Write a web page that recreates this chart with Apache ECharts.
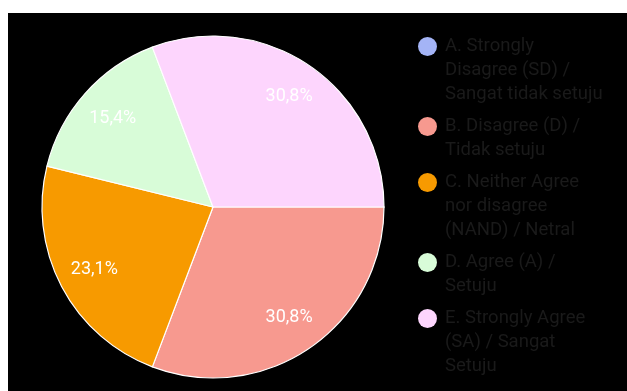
<!DOCTYPE html>
<html>
<head>
<meta charset="utf-8">
<script src="https://cdn.jsdelivr.net/npm/echarts@6/dist/echarts.min.js"></script>
<style>
  html, body { margin: 0; padding: 0; background: #fff; width: 627px; height: 391px; overflow: hidden; }
  #chart { position: absolute; left: 8px; top: 13px; width: 619px; height: 378px; }
</style>
</head>
<body>
<div id="chart"></div>
<script>
// Response categories (legend text keeps its line breaks)
const categories = [
  'A. Strongly\nDisagree (SD) /\nSangat tidak setuju',
  'B. Disagree (D) /\nTidak setuju',
  'C. Neither Agree\nnor disagree\n(NAND) / Netral',
  'D. Agree (A) /\nSetuju',
  'E. Strongly Agree\n(SA) / Sangat\nSetuju'
];
// Number of responses per category
const counts = [0, 4, 3, 2, 4];
const colors = ['#a4b4f6', '#f7998f', '#f79a00', '#d8fcd8', '#fdd5fd'];

const pieData = categories.map((name, i) => ({ name: name, value: counts[i] }));
const total = counts.reduce((a, b) => a + b, 0);

function pctLabel(v) {
  return (v / total * 100).toFixed(1).replace('.', ',') + '%';
}

// Rich styles for the legend: a coloured dot on the first line of each entry
const rich = {
  s: { width: 19, height: 19 },
  t: { fontFamily: 'Roboto', fontSize: 18.5, lineHeight: 24, color: '#1a1a1a', padding: [0, 0, 0, 8] }
};
colors.forEach((c, i) => {
  rich['d' + i] = { width: 19, height: 19, borderRadius: 9.5, backgroundColor: c };
});

const chart = echarts.init(document.getElementById('chart'));
chart.setOption({
  backgroundColor: '#000',
  animation: false,
  color: colors,
  legend: {
    orient: 'vertical',
    left: 404,
    top: 24,
    padding: 0,
    itemGap: 13,
    itemWidth: 0,
    itemHeight: 0,
    icon: 'rect',
    selectedMode: false,
    data: categories,
    formatter: function (name) {
      const i = categories.indexOf(name);
      return name.split('\n').map((line, j) =>
        (j === 0 ? '{d' + i + '|}' : '{s|}') + '{t|' + line + '}'
      ).join('\n');
    },
    textStyle: { rich: rich, padding: 0, color: '#1a1a1a' }
  },
  series: [
    {
      type: 'pie',
      center: [205, 194],
      radius: [0, 171],
      startAngle: 0,
      clockwise: true,
      silent: true,
      minAngle: 0,
      label: { show: false },
      labelLine: { show: false },
      itemStyle: { borderColor: '#fff', borderWidth: 1.2 },
      data: pieData
    },
    {
      // transparent ring carrying the percentage labels
      type: 'pie',
      center: [205, 194],
      radius: [90, 172],
      startAngle: 0,
      clockwise: true,
      silent: true,
      itemStyle: { color: 'rgba(0,0,0,0)', borderWidth: 0 },
      labelLine: { show: false },
      label: {
        show: true,
        position: 'inside',
        color: '#fff',
        fontFamily: 'Roboto',
        fontSize: 18,
        formatter: p => p.value > 0 ? pctLabel(p.value) : ''
      },
      data: pieData
    }
  ]
});
</script>
</body>
</html>
